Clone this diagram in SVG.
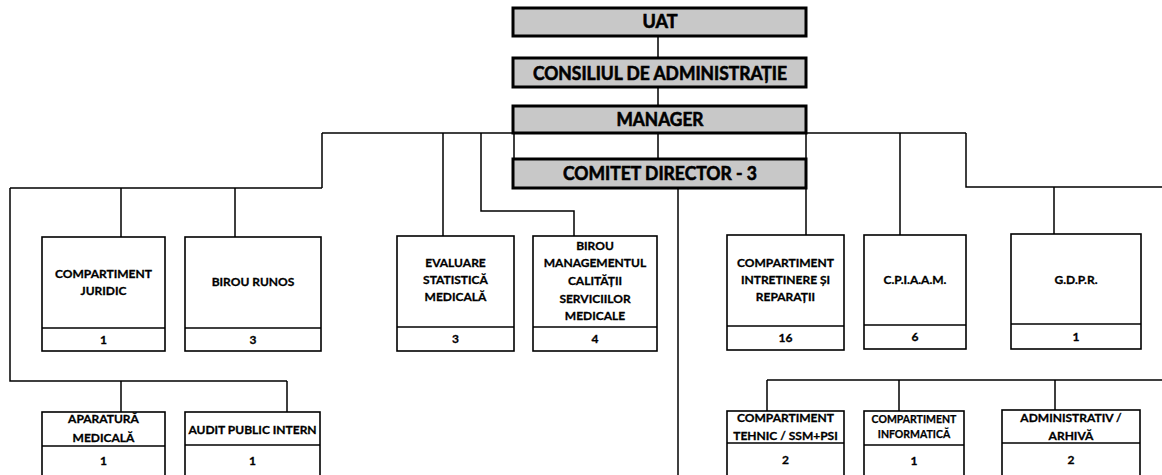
<svg xmlns="http://www.w3.org/2000/svg" width="1162" height="475" viewBox="0 0 1162 475">
<style>
.hdr{fill:#c8c8c8;stroke:#000;stroke-width:3}
.box{fill:#fff;stroke:#000;stroke-width:1.6}
.div{stroke:#000;stroke-width:1.4}
.ln{fill:none;stroke:#000;stroke-width:1.5}
.ht{font-family:Lato,"Liberation Sans",sans-serif;font-weight:bold;font-size:18px;text-anchor:middle;fill:#000;stroke:#000;stroke-width:0.6}
.t{font-family:Lato,"Liberation Sans",sans-serif;font-weight:bold;font-size:12px;text-anchor:middle;fill:#000;stroke:#000;stroke-width:0.3}
.ts{font-family:Lato,"Liberation Sans",sans-serif;font-weight:bold;font-size:10.5px;text-anchor:middle;fill:#000;stroke:#000;stroke-width:0.25}
</style>
<rect width="1162" height="475" fill="#fff"/>
<g id="connectors" class="ln">
<path d="M658 36V57M658 87V106M658 133V159M514 133V159"/>
<path d="M322 133H966"/>
<path d="M322 133V188M10 188H322M121 188V237M235 188V237M10 188V381H287M121 381V412M287 381V412"/>
<path d="M443 133V236M481 133V211H574V236"/>
<path d="M678 188V475"/>
<path d="M806 133V235M900 133V235M966 133V187H1162M1054 187V234"/>
<path d="M767 380H1162M767 380V411M899 380V411M1055 380V410"/>
</g>
<g id="uat"><rect class="hdr" x="513" y="8" width="293" height="28"/><text class="ht" x="660" y="28">UAT</text></g>
<g id="consiliul"><rect class="hdr" x="513" y="58" width="293" height="29"/><text class="ht" x="660" y="80" textLength="254" lengthAdjust="spacingAndGlyphs">CONSILIUL DE ADMINISTRAȚIE</text></g>
<g id="manager"><rect class="hdr" x="513" y="106" width="293" height="27"/><text class="ht" x="660" y="126" textLength="87" lengthAdjust="spacingAndGlyphs">MANAGER</text></g>
<g id="comitet"><rect class="hdr" x="513" y="159" width="293" height="29"/><text class="ht" x="660" y="180" textLength="194" lengthAdjust="spacingAndGlyphs">COMITET DIRECTOR - 3</text></g>

<g id="juridic"><rect class="box" x="42" y="237" width="123" height="114"/><line class="div" x1="42" y1="328" x2="165" y2="328"/><text class="t" x="103.5" y="278">COMPARTIMENT</text><text class="t" x="103.5" y="295">JURIDIC</text><text class="t" x="103.5" y="344">1</text></g>
<g id="runos"><rect class="box" x="185" y="237" width="136" height="114"/><line class="div" x1="185" y1="328" x2="321" y2="328"/><text class="t" x="253" y="286">BIROU RUNOS</text><text class="t" x="253" y="344">3</text></g>
<g id="evaluare"><rect class="box" x="397" y="236" width="117" height="115"/><line class="div" x1="397" y1="327" x2="514" y2="327"/><text class="t" x="455.5" y="267">EVALUARE</text><text class="t" x="455.5" y="284">STATISTICĂ</text><text class="t" x="455.5" y="301">MEDICALĂ</text><text class="t" x="455.5" y="343">3</text></g>
<g id="calitate"><rect class="box" x="533" y="236" width="124" height="115"/><line class="div" x1="533" y1="327" x2="657" y2="327"/><text class="t" x="595" y="250">BIROU</text><text class="t" x="595" y="267">MANAGEMENTUL</text><text class="t" x="595" y="285">CALITĂȚII</text><text class="t" x="595" y="302.5">SERVICIILOR</text><text class="t" x="595" y="320">MEDICALE</text><text class="t" x="595" y="343">4</text></g>
<g id="intretinere"><rect class="box" x="727" y="235" width="117" height="115"/><line class="div" x1="727" y1="326" x2="844" y2="326"/><text class="t" x="785.5" y="267">COMPARTIMENT</text><text class="t" x="785.5" y="284">INTRETINERE ȘI</text><text class="t" x="785.5" y="301">REPARAȚII</text><text class="t" x="785.5" y="342">16</text></g>
<g id="cpiaam"><rect class="box" x="864" y="235" width="102" height="114"/><line class="div" x1="864" y1="325" x2="966" y2="325"/><text class="t" x="915" y="284">C.P.I.A.A.M.</text><text class="t" x="915" y="341">6</text></g>
<g id="gdpr"><rect class="box" x="1011" y="234" width="130" height="115"/><line class="div" x1="1011" y1="324" x2="1141" y2="324"/><text class="t" x="1076" y="284">G.D.P.R.</text><text class="t" x="1076" y="341">1</text></g>

<g id="aparatura"><rect class="box" x="42" y="412" width="123" height="66"/><line class="div" x1="42" y1="446" x2="165" y2="446"/><text class="t" x="103.5" y="423">APARATURĂ</text><text class="t" x="103.5" y="442">MEDICALĂ</text><text class="t" x="103.5" y="465">1</text></g>
<g id="audit"><rect class="box" x="185" y="412" width="135" height="66"/><line class="div" x1="185" y1="445" x2="320" y2="445"/><text class="t" x="252.5" y="434">AUDIT PUBLIC INTERN</text><text class="t" x="252.5" y="465">1</text></g>
<g id="tehnic"><rect class="box" x="727" y="411" width="117" height="67"/><line class="div" x1="727" y1="443" x2="844" y2="443"/><text class="t" x="785.5" y="422">COMPARTIMENT</text><text class="t" x="785.5" y="440">TEHNIC / SSM+PSI</text><text class="t" x="785.5" y="464">2</text></g>
<g id="informatica"><rect class="box" x="864" y="411" width="100" height="67"/><line class="div" x1="864" y1="445" x2="964" y2="445"/><text class="ts" x="914" y="423">COMPARTIMENT</text><text class="ts" x="914" y="438">INFORMATICĂ</text><text class="t" x="914" y="465">1</text></g>
<g id="administrativ"><rect class="box" x="1002" y="410" width="138" height="68"/><line class="div" x1="1002" y1="443" x2="1140" y2="443"/><text class="t" x="1071" y="422">ADMINISTRATIV /</text><text class="t" x="1071" y="440">ARHIVĂ</text><text class="t" x="1071" y="464">2</text></g>
</svg>
